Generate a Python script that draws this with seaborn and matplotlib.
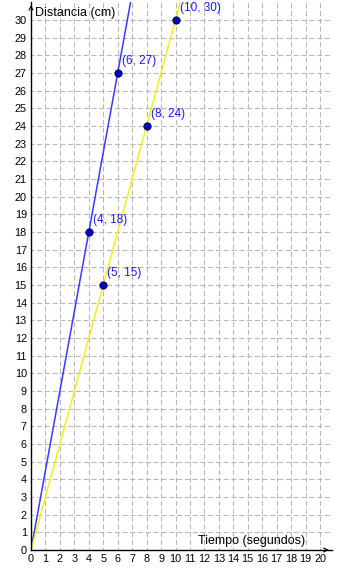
import matplotlib
matplotlib.use("Agg")
import matplotlib.pyplot as plt
import seaborn as sns
import pandas as pd

sns.set_theme(style="white")
plt.rcParams['font.family'] = ['Liberation Sans', 'DejaVu Sans']

# data
blue_points_x = [4, 6]
blue_points_y = [18, 27]
yellow_points_x = [5, 8, 10]
yellow_points_y = [15, 24, 30]
blue_line_x = [0, 4, 6, 7]
blue_line_y = [0, 18, 27, 31.5]
yellow_line_x = [0, 5, 8, 10, 10.5]
yellow_line_y = [0, 15, 24, 30, 31.5]
x_ticks = list(range(0, 21))
y_ticks = list(range(0, 31))
x_label = "Tiempo (segundos)"
y_label = "Distancia (cm)"

fig = plt.figure(figsize=(3.41, 5.71), dpi=100)
ax = fig.add_axes([31/341, 21/571, 300.6/341, 547.8/571])
ax.set_xlim(0, 20.8)
ax.set_ylim(0, 31.0)

# grid
for xv in x_ticks[1:]:
    ax.axvline(xv, color="#b8b8b8", lw=0.8, ls=(2, (4.5, 2.5)), zorder=0)
for yv in y_ticks[1:]:
    ax.axhline(yv, color="#b8b8b8", lw=0.8, ls=(2, (4.5, 2.5)), zorder=0)

sns.lineplot(x=blue_line_x, y=blue_line_y, ax=ax, color="#3a3aff", lw=1.1, sort=False, zorder=2)
sns.lineplot(x=yellow_line_x, y=yellow_line_y, ax=ax, color="#f5ee1c", lw=1.1, sort=False, zorder=2)

pts = pd.DataFrame({"x": blue_points_x + yellow_points_x,
                    "y": blue_points_y + yellow_points_y})
sns.scatterplot(data=pts, x="x", y="y", ax=ax, color="#0000c8", edgecolor="#000033",
                s=28, linewidth=0.6, zorder=3)
for xv, yv in zip(pts["x"], pts["y"]):
    ax.annotate(f"({xv}, {yv})", (xv, yv), xytext=(3, 4.5), textcoords="offset points",
                color="#1a1aff", fontsize=8.5, ha="left", va="bottom")

ax.set_xticks(x_ticks)
ax.set_yticks(y_ticks)
ax.tick_params(axis="both", labelsize=7.8, length=0, pad=3, colors="black")
ax.set_xlabel("")
ax.set_ylabel("")

for s in ["top", "right"]:
    ax.spines[s].set_visible(False)
for s in ["left", "bottom"]:
    ax.spines[s].set_color("black")
    ax.spines[s].set_linewidth(1.0)

# arrows
ax.annotate("", xy=(1.0, 0), xytext=(0.97, 0), xycoords="axes fraction",
            arrowprops=dict(arrowstyle="->", color="black", lw=0.8, mutation_scale=7))
ax.annotate("", xy=(0, 1.0), xytext=(0, 0.985), xycoords="axes fraction",
            arrowprops=dict(arrowstyle="->", color="black", lw=0.8, mutation_scale=7))

ax.text(0.3, 30.4, y_label, fontsize=9, ha="left", va="center", color="black")
ax.text(19.0, 0.5, x_label, fontsize=9, ha="right", va="center", color="black")

fig.savefig("out.png", dpi=100)
